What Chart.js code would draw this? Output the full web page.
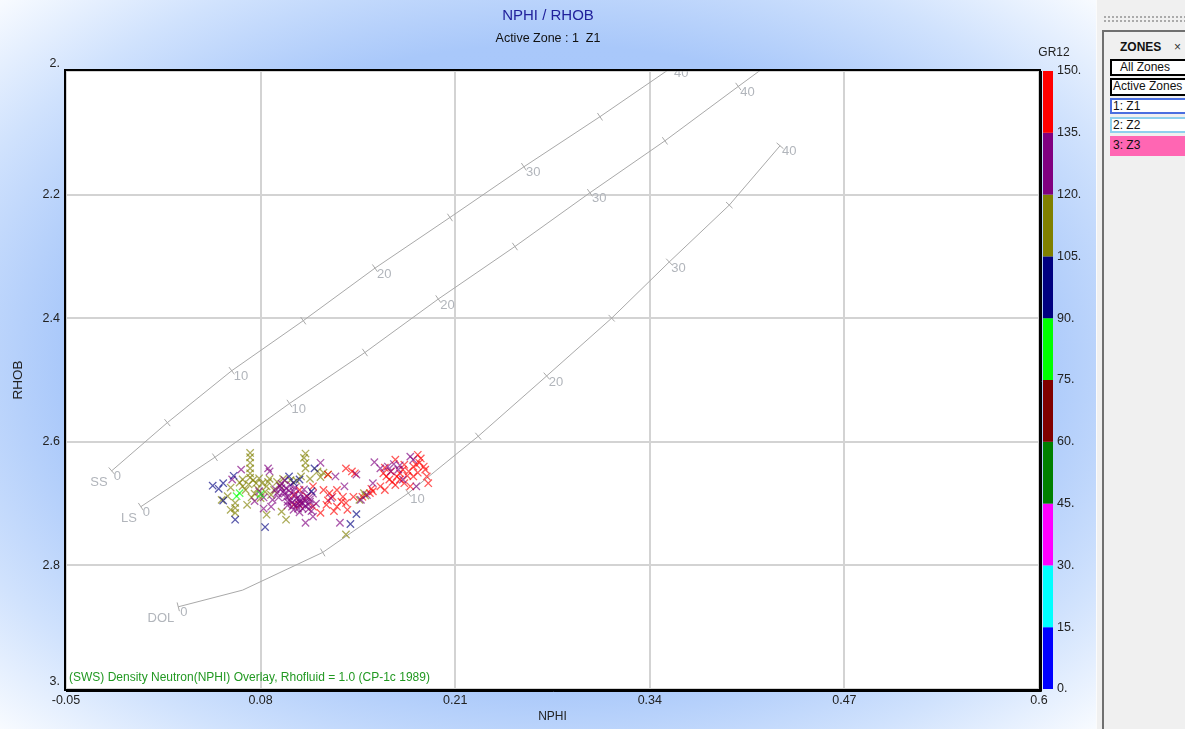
<!DOCTYPE html>
<html>
<head>
<meta charset="utf-8">
<script src="https://cdn.jsdelivr.net/npm/chart.js@4.4.1/dist/chart.umd.min.js"></script>
<style>
html, body { margin:0; padding:0; width:1185px; height:729px; overflow:hidden; background:#f0f0f0; }
#plot { position:absolute; left:0; top:0; width:1096px; height:729px;
  background: radial-gradient(ellipse farthest-corner at 50% 50%, #a6c5f9 0%, #a9c8fa 62%, #d0e2fd 82%, #f8fbff 100%); }
#side { position:absolute; left:1096px; top:0; width:89px; height:729px; background:#f0f0f0; overflow:hidden;
  border-left:1px solid #fbfbfb; box-sizing:border-box; font-family:"Liberation Sans", Arial, sans-serif; }
.grip { position:absolute; left:6px; top:15px; width:90px; height:9px;
  background-image: radial-gradient(circle, #a8a8a8 0.7px, transparent 1.1px); background-size:4px 4px; }
.pane { position:absolute; left:5px; top:30px; width:120px; height:720px;
  border-left:2px solid #707070; border-top:2px solid #707070; }
.hdr { position:absolute; left:16px; top:8px; font-weight:bold; font-size:12px; color:#111; }
.close { position:absolute; left:70px; top:8px; font-size:12px; color:#333; }
.btn { position:absolute; left:6px; width:110px; box-sizing:border-box; font-size:12px; color:#111;
  line-height:13px; white-space:nowrap; background:#fff; }
</style>
</head>
<body>
<div id="plot"><canvas id="myChart" width="1096" height="729"></canvas></div>
<div id="side">
  <div class="grip"></div>
  <div class="pane">
    <div class="hdr">ZONES</div>
    <div class="close">×</div>
    <div class="btn" style="top:27px;height:17px;border:2px solid #000;padding-left:8px;">All Zones</div>
    <div class="btn" style="top:46px;height:18px;border:2px solid #000;padding-left:1px;">Active Zones</div>
    <div class="btn" style="top:66px;height:16px;border:2px solid #4a6ee0;padding-left:1px;">1: Z1</div>
    <div class="btn" style="top:85px;height:16px;border:2px solid #8fd0ee;padding-left:1px;">2: Z2</div>
    <div class="btn" style="top:104px;height:20px;border:1px solid #ff66b3;background:#ff66b3;padding:2px 0 0 2px;">3: Z3</div>
  </div>
</div>
<script>
var face = "'Liberation Sans', Arial, sans-serif"

// axes
var xTicks = [-0.05, 0.08, 0.21, 0.34, 0.47, 0.6]
var xTickLabels = ['-0.05', '0.08', '0.21', '0.34', '0.47', '0.6']
var yTicks = [2, 2.2, 2.4, 2.6, 2.8, 3]
var yTickLabels = ['2.', '2.2', '2.4', '2.6', '2.8', '3.']

// GR12 colour scale
var grTicks = [0, 15, 30, 45, 60, 75, 90, 105, 120, 135, 150]
var grTickLabels = ['0.', '15.', '30.', '45.', '60.', '75.', '90.', '105.', '120.', '135.', '150.']
var grColors = ['#0000ff', '#00ffff', '#ff00ff', '#008000', '#800000', '#00ff00', '#000080', '#808000', '#800080', '#ff0000']

// chart overlay lines (porosity in p.u.)
var ssPor = [0, 5, 10, 15, 20, 25, 30, 35, 40]
var ssNphi = [-0.0195, 0.0177, 0.0607, 0.1085, 0.1564, 0.2065, 0.2559, 0.3067, 0.3548]
var ssRhob = [2.647, 2.569, 2.485, 2.404, 2.319, 2.237, 2.155, 2.074, 1.994]
var lsPor = [0, 5, 10, 15, 20, 25, 30, 35, 40, 45]
var lsNphi = [0.000, 0.0495, 0.0993, 0.1497, 0.1987, 0.2499, 0.3000, 0.3501, 0.3991, 0.448]
var lsRhob = [2.705, 2.625, 2.538, 2.4555, 2.369, 2.284, 2.197, 2.113, 2.025, 1.938]
var dolPor = [0, null, 5, 10, 15, 20, 25, 30, 35, 40]
var dolNphi = [0.025, 0.068, 0.1215, 0.1787, 0.2254, 0.2711, 0.3145, 0.3530, 0.3931, 0.4270]
var dolRhob = [2.867, 2.840, 2.779, 2.683, 2.591, 2.4935, 2.400, 2.309, 2.217, 2.121]

// log points, one list per GR class
var limeNphi = [0.066, 0.080, 0.064]
var limeRhob = [2.683, 2.685, 2.688]

var navyNphi = [0.048, 0.052, 0.055, 0.055, 0.062, 0.063, 0.083, 0.116, 0.114, 0.099, 0.144, 0.140, 0.102, 0.106]
var navyRhob = [2.671, 2.676, 2.667, 2.695, 2.655, 2.726, 2.738, 2.643, 2.680, 2.656, 2.717, 2.733, 2.666, 2.661]

var oliveNphi = [0.073, 0.073, 0.073, 0.073, 0.073, 0.073, 0.058, 0.063, 0.063, 0.063, 0.060, 0.068,
  0.072, 0.075, 0.078, 0.081, 0.084, 0.086, 0.089, 0.091, 0.076, 0.070, 0.083, 0.087, 0.079, 0.093, 0.068, 0.074, 0.080,
  0.110, 0.109, 0.110, 0.110, 0.097, 0.084, 0.094, 0.137, 0.150, 0.122, 0.125, 0.118, 0.071, 0.107, 0.054, 0.060,
  0.146, 0.149, 0.077, 0.085, 0.066, 0.095, 0.100, 0.104, 0.113, 0.120]
var oliveRhob = [2.618, 2.625, 2.634, 2.643, 2.651, 2.658, 2.688, 2.699, 2.707, 2.715, 2.674, 2.661,
  2.669, 2.662, 2.676, 2.667, 2.672, 2.660, 2.678, 2.665, 2.684, 2.678, 2.681, 2.686, 2.659, 2.671, 2.672, 2.690, 2.691,
  2.619, 2.626, 2.634, 2.643, 2.726, 2.718, 2.713, 2.750, 2.687, 2.650, 2.653, 2.648, 2.702, 2.656, 2.694, 2.710,
  2.694, 2.683, 2.667, 2.665, 2.666, 2.660, 2.662, 2.663, 2.660, 2.657]

var purpleNphi = [0.067, 0.085, 0.093, 0.091, 0.088, 0.087,
  0.094, 0.097, 0.100, 0.102, 0.099, 0.104, 0.107, 0.110, 0.105, 0.101, 0.108, 0.112, 0.114, 0.098, 0.095, 0.103,
  0.109, 0.106, 0.111, 0.096, 0.092, 0.113, 0.115, 0.117, 0.100, 0.103, 0.106, 0.096, 0.108, 0.112, 0.099, 0.105,
  0.120, 0.130, 0.136, 0.133, 0.110, 0.115, 0.082, 0.156, 0.144, 0.155, 0.160, 0.165, 0.169, 0.172, 0.167, 0.173,
  0.180, 0.182, 0.175, 0.184, 0.147, 0.151, 0.086, 0.061, 0.127, 0.079, 0.082, 0.076,
  0.097, 0.101, 0.104, 0.107, 0.110, 0.113, 0.098, 0.102, 0.106, 0.109, 0.094, 0.090]
var purpleRhob = [2.645, 2.643, 2.672, 2.683, 2.694, 2.705,
  2.668, 2.675, 2.670, 2.680, 2.688, 2.692, 2.685, 2.696, 2.700, 2.705, 2.708, 2.702, 2.712, 2.697, 2.681, 2.674,
  2.677, 2.714, 2.688, 2.662, 2.690, 2.693, 2.684, 2.700, 2.695, 2.686, 2.692, 2.684, 2.699, 2.709, 2.679, 2.708,
  2.634, 2.656, 2.672, 2.731, 2.731, 2.721, 2.708, 2.633, 2.653, 2.667, 2.643, 2.640, 2.636, 2.645, 2.648, 2.638,
  2.624, 2.629, 2.661, 2.672, 2.694, 2.686, 2.648, 2.661, 2.691, 2.680, 2.690, 2.696,
  2.690, 2.698, 2.703, 2.700, 2.704, 2.697, 2.703, 2.710, 2.696, 2.691, 2.675, 2.677]

var redNphi = [0.137, 0.141, 0.143, 0.102, 0.106, 0.111, 0.115, 0.115, 0.120, 0.124, 0.126, 0.131, 0.135, 0.137,
  0.128, 0.142, 0.155, 0.153, 0.160, 0.162, 0.164, 0.167, 0.171, 0.173, 0.175, 0.179, 0.182, 0.184, 0.186, 0.189,
  0.191, 0.192, 0.173, 0.176, 0.166, 0.182, 0.180, 0.122, 0.106, 0.102, 0.125, 0.170, 0.185, 0.190, 0.163, 0.176,
  0.170, 0.163, 0.148, 0.154, 0.125, 0.131, 0.138, 0.129, 0.134, 0.178, 0.185, 0.168, 0.187]
var redRhob = [2.643, 2.648, 2.651, 2.686, 2.678, 2.689, 2.672, 2.705, 2.715, 2.702, 2.683, 2.678, 2.689, 2.699,
  2.689, 2.689, 2.680, 2.683, 2.672, 2.651, 2.656, 2.648, 2.656, 2.651, 2.645, 2.648, 2.640, 2.637, 2.634, 2.640,
  2.656, 2.667, 2.661, 2.667, 2.661, 2.656, 2.672, 2.678, 2.702, 2.702, 2.653, 2.629, 2.621, 2.645, 2.642, 2.637,
  2.670, 2.678, 2.689, 2.676, 2.695, 2.705, 2.710, 2.712, 2.697, 2.655, 2.650, 2.665, 2.627]

var noteText = '(SWS) Density Neutron(NPHI) Overlay, Rhofluid = 1.0 (CP-1c 1989)'


function pts(xs, ys) {
    var out = []
    for (var i = 0; i < xs.length; i++) out.push({x: xs[i], y: ys[i]})
    return out
}

function rgba(hex, a) {
    var n = parseInt(hex.slice(1), 16)
    return 'rgba(' + (n >> 16) + ',' + ((n >> 8) & 255) + ',' + (n & 255) + ',' + a + ')'
}

function logSet(name, xs, ys, band) {
    return {
        label: name,
        data: pts(xs, ys),
        pointStyle: 'crossRot',
        pointRadius: 5.2,
        pointHoverRadius: 5.2,
        pointBorderWidth: 1.3,
        borderColor: rgba(grColors[band], 0.65),
        backgroundColor: rgba(grColors[band], 0.65),
    }
}

// tick marks perpendicular to the overlay line
function tickAngle(ctx) {
    var chart = ctx.chart, d = ctx.dataset.data, i = ctx.dataIndex
    var a = d[Math.max(i - 1, 0)], b = d[Math.min(i + 1, d.length - 1)]
    var sx = chart.scales.x, sy = chart.scales.y
    var dx = sx.getPixelForValue(b.x) - sx.getPixelForValue(a.x)
    var dy = sy.getPixelForValue(b.y) - sy.getPixelForValue(a.y)
    return Math.atan2(dy, dx) * 180 / Math.PI + 90
}

function curveSet(name, xs, ys, por) {
    return {
        label: name,
        curveName: name,
        por: por,
        data: pts(xs, ys),
        showLine: true,
        borderColor: '#a9a9a9',
        borderWidth: 1,
        pointStyle: 'line',
        pointRadius: function(ctx) { return por[ctx.dataIndex] === null ? 0 : 4.5 },
        pointHoverRadius: 4.5,
        pointBorderColor: '#a9a9a9',
        pointBorderWidth: 1,
        rotation: tickAngle,
    }
}

var plotBack = {
    id: 'plotBack',
    beforeDraw: function(chart) {
        var c = chart.ctx, a = chart.chartArea
        c.save()
        c.fillStyle = '#ffffff'
        c.fillRect(a.left, a.top, a.right - a.left, a.bottom - a.top)
        c.restore()
    }
}

var overlayText = {
    id: 'overlayText',
    afterDatasetsDraw: function(chart) {
        var c = chart.ctx, a = chart.chartArea
        c.save()
        c.beginPath()
        c.rect(a.left, a.top, a.right - a.left, a.bottom - a.top)
        c.clip()
        c.font = '13px ' + face
        c.fillStyle = '#b1b5bb'
        c.textBaseline = 'middle'
        chart.data.datasets.forEach(function(ds, i) {
            if (!ds.curveName) return
            var meta = chart.getDatasetMeta(i)
            meta.data.forEach(function(el, j) {
                var p = ds.por[j]
                if (p === null || p % 10 !== 0) return
                c.textAlign = 'left'
                c.fillText(String(p), el.x + 2, el.y + 6)
                if (p === 0) {
                    c.textAlign = 'right'
                    c.fillText(ds.curveName, el.x - 4, el.y + 12)
                }
            })
        })
        c.textAlign = 'left'
        c.font = '12px ' + face
        c.fillStyle = '#229922'
        c.fillText(noteText, a.left + 3, a.bottom - 11)
        c.restore()
    },
    afterDraw: function(chart) {
        var c = chart.ctx, a = chart.chartArea, gr = chart.scales.gr
        c.save()
        // colour bar
        for (var k = 0; k < grColors.length; k++) {
            var y0 = gr.getPixelForValue(grTicks[k]), y1 = gr.getPixelForValue(grTicks[k + 1])
            c.fillStyle = grColors[k]
            c.fillRect(a.right + 4, y1, 10, y0 - y1)
        }
        c.font = '12px ' + face
        c.fillStyle = '#222'
        c.textAlign = 'center'
        c.textBaseline = 'middle'
        c.fillText('GR12', a.right + 15, 53)
        // frame
        c.strokeStyle = '#000'
        c.lineWidth = 2
        c.strokeRect(a.left - 1, a.top - 1, a.right - a.left + 2, a.bottom - a.top + 2)
        c.lineWidth = 1
        c.beginPath()
        c.moveTo(a.left, a.bottom + 2.5); c.lineTo(a.right + 2.5, a.bottom + 2.5); c.lineTo(a.right + 2.5, a.top)
        c.stroke()
        c.restore()
    }
}

var data = {
    datasets: [
        logSet('GR 75-90', limeNphi, limeRhob, 5),
        logSet('GR 90-105', navyNphi, navyRhob, 6),
        logSet('GR 120-135', purpleNphi, purpleRhob, 8),
        logSet('GR 135-150', redNphi, redRhob, 9),
        logSet('GR 105-120', oliveNphi, oliveRhob, 7),
        curveSet('SS', ssNphi, ssRhob, ssPor),
        curveSet('LS', lsNphi, lsRhob, lsPor),
        curveSet('DOL', dolNphi, dolRhob, dolPor),
    ]
};

var config = {
    type: 'scatter',
    data: data,
    plugins: [plotBack, overlayText],
    options: {
        responsive: false,
        animation: false,
        events: [],
        layout: {padding: 0},
        plugins: {
            legend: {display: false},
            tooltip: {enabled: false},
            title: {
                display: true,
                text: 'NPHI / RHOB',
                color: '#22229c',
                font: {family: face, size: 15, weight: 'normal'},
                padding: {top: 7, bottom: 2},
            },
            subtitle: {
                display: true,
                text: 'Active Zone : 1  Z1',
                color: '#111',
                font: {family: face, size: 12.5},
                padding: {top: 4, bottom: 25},
            },
        },
        scales: {
            x: {
                type: 'linear',
                position: 'bottom',
                min: -0.05,
                max: 0.6,
                afterBuildTicks: function(s) { s.ticks = xTicks.map(function(v) { return {value: v} }) },
                afterFit: function(s) { s.height = 40 },
                ticks: {
                    callback: function(v, i) { return xTickLabels[i] },
                    color: '#222',
                    font: {family: face, size: 12.5},
                    padding: 4.5,
                    maxRotation: 0,
                    autoSkip: false,
                },
                grid: {color: '#d3d3d3', lineWidth: 2, drawTicks: false},
                border: {display: false},
                title: {display: true, text: 'NPHI', color: '#222', font: {family: face, size: 12}, padding: {top: 0, bottom: 5}},
            },
            y: {
                type: 'linear',
                position: 'left',
                reverse: true,
                min: 2,
                max: 3,
                afterBuildTicks: function(s) { s.ticks = yTicks.map(function(v) { return {value: v} }) },
                afterFit: function(s) { s.width = 66 },
                ticks: {
                    callback: function(v, i) {
                        var t = yTickLabels[i]
                        return (i === 0 || i === yTickLabels.length - 1) ? [t, ''] : t
                    },
                    color: '#222',
                    font: {family: face, size: 12.5},
                    padding: 6,
                    autoSkip: false,
                },
                grid: {color: '#d3d3d3', lineWidth: 2, drawTicks: false},
                border: {display: false},
                title: {display: true, text: 'RHOB', color: '#222', font: {family: face, size: 13.5}, padding: {top: 10, bottom: 0}},
            },
            gr: {
                type: 'linear',
                position: 'right',
                min: 0,
                max: 150,
                afterBuildTicks: function(s) { s.ticks = grTicks.map(function(v) { return {value: v} }) },
                afterFit: function(s) { s.width = 57 },
                ticks: {
                    callback: function(v, i) { return grTickLabels[i] },
                    color: '#222',
                    font: {family: face, size: 12.5},
                    padding: 18,
                    autoSkip: false,
                },
                grid: {display: false, drawTicks: false},
                border: {display: false},
            },
        },
    },
};

var myChart = new Chart(document.getElementById('myChart'), config);
</script>
</body>
</html>
